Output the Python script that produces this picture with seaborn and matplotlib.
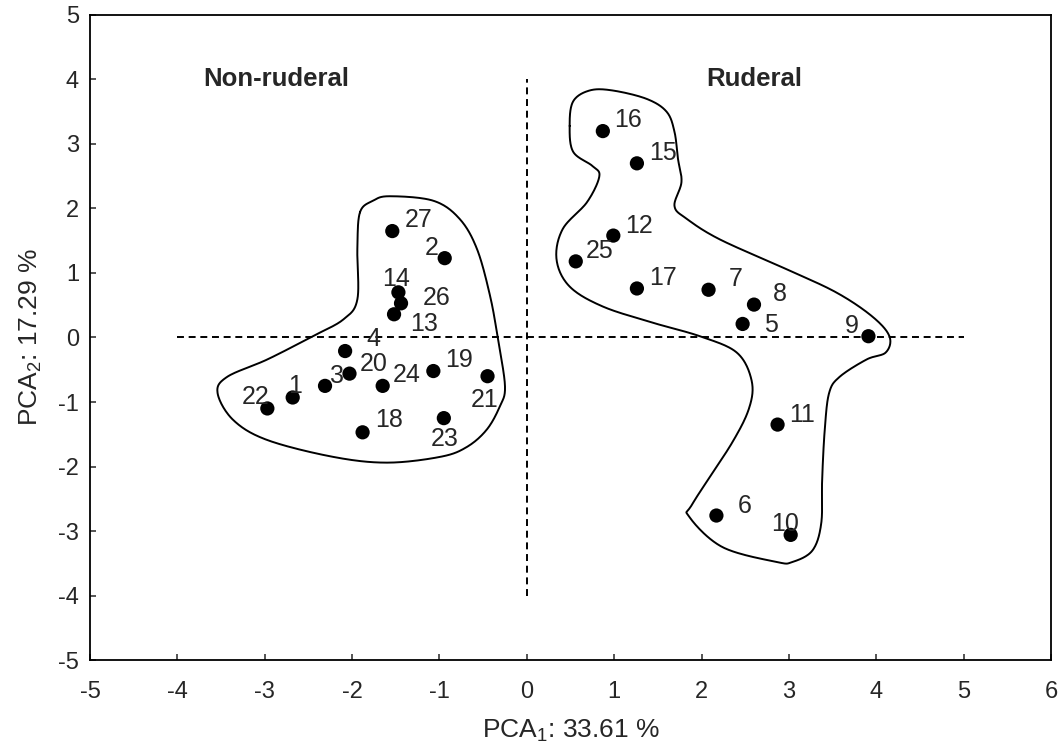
import numpy as np
import pandas as pd
import matplotlib
matplotlib.use("Agg")
import matplotlib.pyplot as plt
import seaborn as sns

# Species scores on the first two principal components
species = ["1", "2", "3", "4", "5", "6", "7", "8", "9", "10", "11", "12", "13", "14",
           "15", "16", "17", "18", "19", "20", "21", "22", "23", "24", "25", "26", "27"]
pc1 = [-2.68, -0.94, -2.31, -2.08, 2.47, 2.17, 2.08, 2.60, 3.91, 3.02, 2.87, 0.99, -1.52, -1.47,
       1.26, 0.87, 1.26, -1.88, -1.07, -2.03, -0.45, -2.97, -0.95, -1.65, 0.56, -1.44, -1.54]
pc2 = [-0.93, 1.23, -0.75, -0.21, 0.21, -2.76, 0.74, 0.51, 0.02, -3.06, -1.35, 1.58, 0.36, 0.70,
       2.70, 3.20, 0.76, -1.47, -0.52, -0.56, -0.60, -1.10, -1.25, -0.75, 1.18, 0.53, 1.65]

group_names = ["Non-ruderal", "Ruderal"]
x_ticks = list(range(-5, 7))
y_ticks = list(range(-5, 6))
x_title = "PCA$_1$: 33.61 %"
y_title = "PCA$_2$: 17.29 %"

# Hand-drawn envelopes around each group (data units)
nonruderal_env_x = [-1.91, -1.76, -1.57, -1.07, -0.77, -0.57, -0.42, -0.33, -0.25, -0.31, -0.46, -0.69,
                    -0.99, -1.60, -2.22, -2.97, -3.36, -3.54, -3.43, -2.97, -2.45, -2.10, -1.94, -1.94]
nonruderal_env_y = [1.94, 2.12, 2.19, 2.12, 1.84, 1.37, 0.64, -0.03, -0.76, -1.07, -1.43, -1.70,
                    -1.85, -1.94, -1.85, -1.59, -1.28, -0.86, -0.61, -0.34, 0.02, 0.28, 0.59, 1.37]
ruderal_env_x = [0.49, 0.53, 0.72, 0.98, 1.37, 1.60, 1.69, 1.73, 1.77, 1.69, 1.83, 2.21, 2.97, 3.54,
                 3.95, 4.15, 4.11, 3.89, 3.58, 3.46, 3.41, 3.38, 3.37, 3.27, 3.04, 2.86, 2.24, 1.86,
                 1.90, 2.35, 2.55, 2.57, 2.40, 1.98, 1.44, 0.87, 0.49, 0.34, 0.41, 0.69, 0.83, 0.75, 0.53]
ruderal_env_y = [3.28, 3.66, 3.83, 3.83, 3.70, 3.50, 3.19, 2.77, 2.41, 2.04, 1.84, 1.52, 1.06, 0.70,
                 0.33, 0.02, -0.23, -0.34, -0.61, -0.86, -1.43, -2.21, -2.88, -3.30, -3.48, -3.48,
                 -3.25, -2.78, -2.57, -1.63, -1.07, -0.65, -0.23, 0.02, 0.23, 0.48, 0.79, 1.21, 1.68,
                 2.10, 2.50, 2.66, 2.88]

# Label offsets (pixels) relative to each point
label_offsets = {
    "1": (2, 11), "2": (-13, 10), "3": (12, 10), "4": (28, 12), "5": (28, -1), "6": (28, 10),
    "7": (27, 11), "8": (26, 11), "9": (-17, 10), "10": (-6, 11), "11": (24, 10), "12": (26, 10),
    "13": (30, -10), "14": (-2, 13), "15": (26, 10), "16": (25, 11), "17": (26, 10), "18": (26, 12),
    "19": (26, 11), "20": (24, 10), "21": (-3, -24), "22": (-12, 11), "23": (1, -21), "24": (24, 11),
    "25": (24, 10), "26": (36, 5), "27": (26, 11),
}


def closed_spline(xs, ys, n=24):
    """Closed Catmull-Rom curve through the given vertices."""
    p = np.column_stack([xs, ys])
    m = len(p)
    out = []
    t = np.linspace(0, 1, n, endpoint=False)[:, None]
    for i in range(m):
        p0, p1, p2, p3 = p[(i - 1) % m], p[i], p[(i + 1) % m], p[(i + 2) % m]
        seg = 0.5 * ((2 * p1) + (-p0 + p2) * t + (2 * p0 - 5 * p1 + 4 * p2 - p3) * t ** 2
                     + (-p0 + 3 * p1 - 3 * p2 + p3) * t ** 3)
        out.append(seg)
    out = np.vstack(out + [p[:1]])
    return out[:, 0], out[:, 1]


sns.set_style("ticks")
plt.rcParams["font.family"] = ["Liberation Sans", "DejaVu Sans"]
plt.rcParams["mathtext.fontset"] = "custom"
plt.rcParams["mathtext.rm"] = "Liberation Sans"
plt.rcParams["mathtext.default"] = "regular"
plt.rcParams["lines.scale_dashes"] = False

fig = plt.figure(figsize=(10.64, 7.49), dpi=100)
ax = fig.add_axes([0.0846, 0.1188, 0.9032, 0.8612])

df = pd.DataFrame({"species": species, "PC1": pc1, "PC2": pc2})

# Axis cross at the origin
ax.plot([-4, 5], [0, 0], color="black", lw=1.4, dashes=(5, 3.4))
ax.plot([0, 0], [-4, 4], color="black", lw=1.4, dashes=(5, 3.4))

# Group envelopes
for ex, ey in [(nonruderal_env_x, nonruderal_env_y), (ruderal_env_x, ruderal_env_y)]:
    cx, cy = closed_spline(ex, ey)
    ax.plot(cx, cy, color="black", lw=1.4)

sns.scatterplot(data=df, x="PC1", y="PC2", s=105, color="black", edgecolor="none",
                legend=False, ax=ax, zorder=3)

for _, row in df.iterrows():
    dx, dy = label_offsets[row["species"]]
    ax.annotate(row["species"], (row["PC1"], row["PC2"]), xytext=(dx, dy),
                textcoords="offset pixels", ha="center", va="center", fontsize=18)

ax.text(-2.87, 4.0, group_names[0], ha="center", va="center", fontsize=18.5, fontweight="bold")
ax.text(2.6, 4.0, group_names[1], ha="center", va="center", fontsize=18.5, fontweight="bold")

ax.set_xlim(-5, 6)
ax.set_ylim(-5, 5)
ax.set_xticks(x_ticks)
ax.set_yticks(y_ticks)
ax.set_xticklabels([str(v) for v in x_ticks])
ax.set_yticklabels([str(v) for v in y_ticks])
ax.tick_params(direction="in", length=4.5, width=1.1, labelsize=17, pad=8,
               top=False, right=False)
ax.tick_params(axis="x", pad=15)
for sp in ax.spines.values():
    sp.set_linewidth(1.3)
    sp.set_color("black")

ax.set_xlabel(x_title, fontsize=19, labelpad=11)
ax.set_ylabel(y_title, fontsize=19, labelpad=10)

fig.savefig("out.png", dpi=100)
